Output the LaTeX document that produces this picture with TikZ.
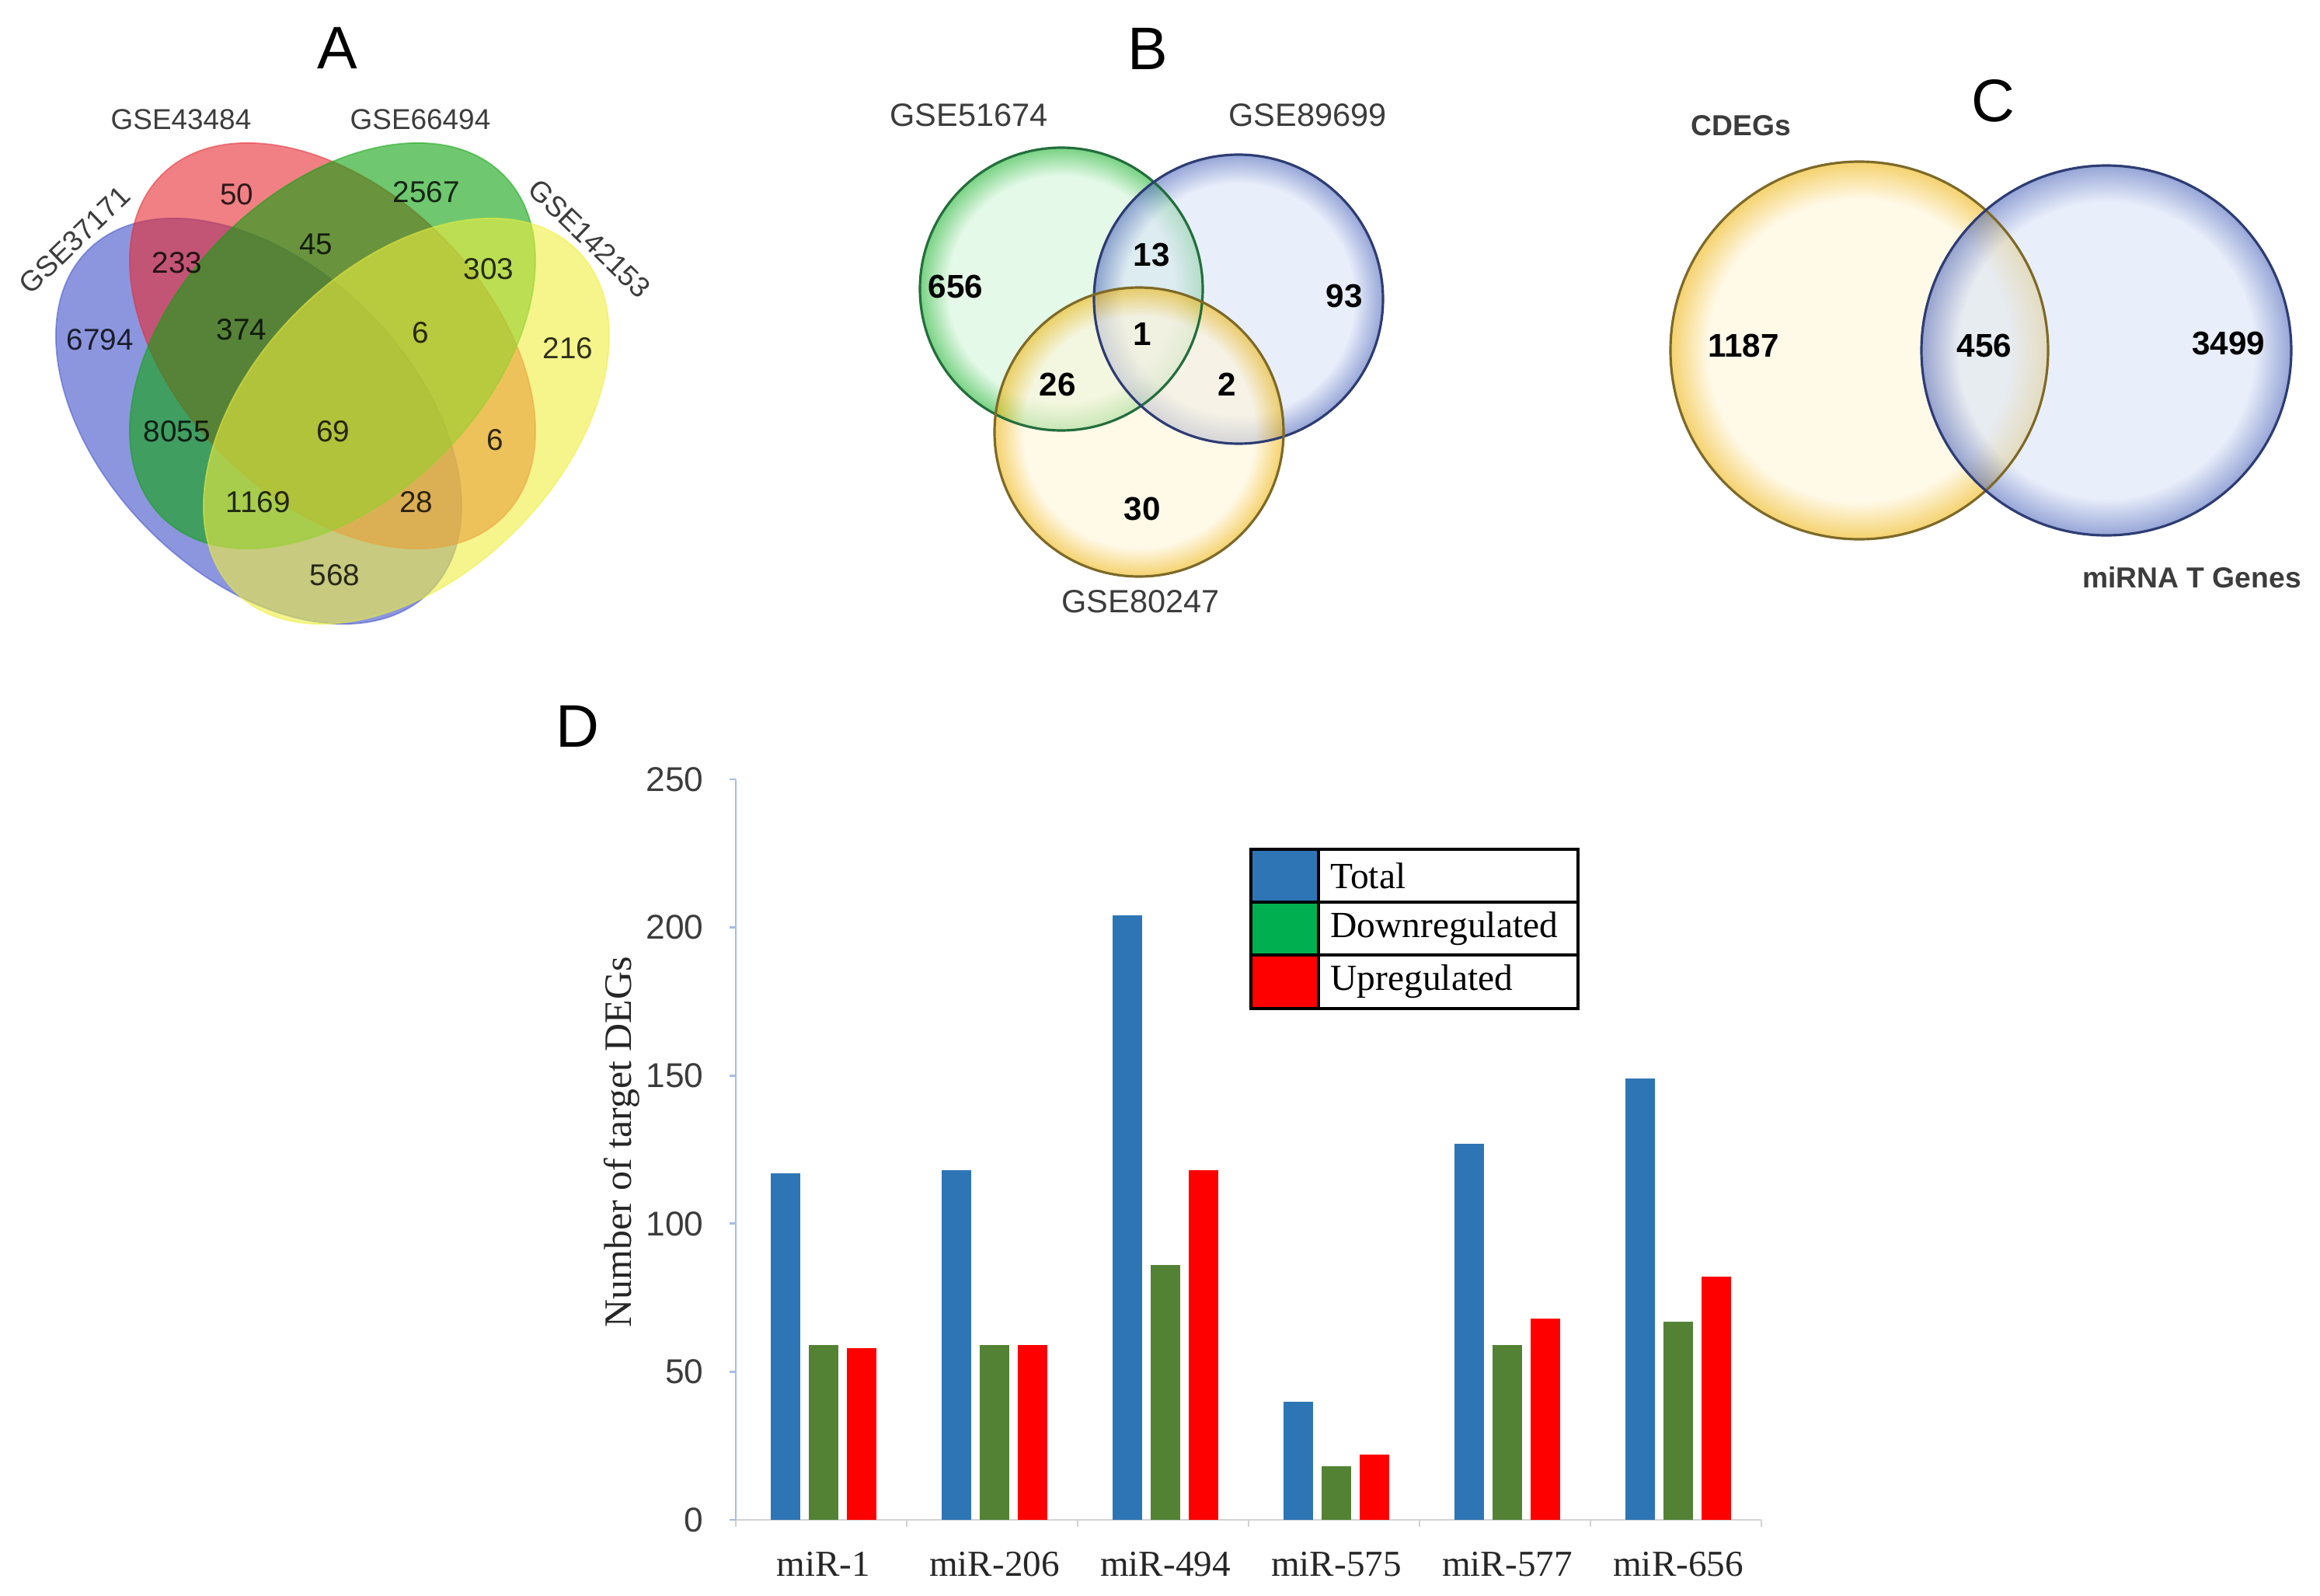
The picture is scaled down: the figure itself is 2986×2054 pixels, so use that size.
\documentclass[tikz,border=0pt]{standalone}
\usepackage{fontspec}
\setmainfont{Liberation Serif}
\setsansfont{Liberation Sans}

% four-set colours
\definecolor{vblue}{RGB}{63,80,200}
\definecolor{vred}{RGB}{230,43,50}
\definecolor{vgreen}{RGB}{15,163,15}
\definecolor{vyellow}{RGB}{238,238,63}
\definecolor{labelgray}{RGB}{60,60,60}
% shaded circles
\definecolor{greenin}{RGB}{210,245,217}
\definecolor{greenout}{RGB}{30,180,47}
\definecolor{bluein}{RGB}{217,227,247}
\definecolor{blueout}{RGB}{80,105,188}
\definecolor{yellowin}{RGB}{255,245,217}
\definecolor{yellowout}{RGB}{238,180,13}
\definecolor{greenline}{RGB}{35,110,60}
\definecolor{blueline}{RGB}{45,60,115}
\definecolor{yellowline}{RGB}{125,105,40}
% bars
\definecolor{bartotal}{RGB}{46,117,182}
\definecolor{bardown}{RGB}{84,130,53}
\definecolor{barup}{RGB}{255,0,0}
\definecolor{legdown}{RGB}{0,176,80}
\definecolor{axisblue}{RGB}{165,190,230}
\definecolor{axisgray}{RGB}{210,210,210}

\pgfdeclareradialshading{greenrim}{\pgfpoint{0bp}{0bp}}{color(0bp)=(greenin); color(20bp)=(greenin); color(25bp)=(greenout); color(50bp)=(greenout)}
\pgfdeclareradialshading{bluerim}{\pgfpoint{0bp}{0bp}}{color(0bp)=(bluein); color(20bp)=(bluein); color(25bp)=(blueout); color(50bp)=(blueout)}
\pgfdeclareradialshading{yellowrim}{\pgfpoint{0bp}{0bp}}{color(0bp)=(yellowin); color(20bp)=(yellowin); color(25bp)=(yellowout); color(50bp)=(yellowout)}

\tikzset{
  paneltitle/.style={font=\sffamily\fontsize{22}{26}\selectfont},
  venn/.style={fill opacity=0.6, draw opacity=0.5, line width=0.5pt},
  setlabel/.style={font=\sffamily\fontsize{10.5}{12}\selectfont, text=labelgray},
  vcount/.style={font=\sffamily\fontsize{11}{13}\selectfont, text opacity=0.8},
  ring/.style={fill opacity=0.6},
  bigsetlabel/.style={font=\sffamily\fontsize{11.8}{14}\selectfont, text=labelgray},
  boldcount/.style={font=\sffamily\bfseries\fontsize{12}{14}\selectfont},
  boldlabel/.style={font=\sffamily\bfseries\fontsize{10.6}{12}\selectfont, text=labelgray},
  ticklabel/.style={font=\sffamily\fontsize{12.6}{14}\selectfont, text=labelgray, anchor=east},
  catlabel/.style={font=\fontsize{13.4}{15}\selectfont, text=black!85},
  legendtext/.style={font=\fontsize{13.5}{15}\selectfont, anchor=west}
}

\begin{document}
\begin{tikzpicture}[x=0.01cm, y=-0.01cm]
\useasboundingbox (0,0) rectangle (2986,2054);

% Panel A
\node[paneltitle] (titleA) at (434,62) {A};
\draw[venn, fill=vblue, draw=vblue, rotate around={-45:(333,542)}] (333,542) ellipse (311 and 199);
\draw[venn, fill=vred, draw=vred, rotate around={-45:(428,445)}] (428,445) ellipse (311 and 199);
\draw[venn, fill=vgreen, draw=vgreen, rotate around={45:(428,445)}] (428,445) ellipse (311 and 199);
\draw[venn, fill=vyellow, draw=vyellow, rotate around={45:(523,542)}] (523,542) ellipse (311 and 199);

\node[setlabel, rotate=44] (setA1) at (96,309) {GSE37171};
\node[setlabel] (setA2) at (233,154) {GSE43484};
\node[setlabel] (setA3) at (541,154) {GSE66494};
\node[setlabel, rotate=-44] (setA4) at (759,307) {GSE142153};

\foreach \txt/\px/\py [count=\k] in {50/305/250, 2567/549/247, 45/407/314, 233/228/338,
    303/629/346, 374/311/424, 6/541/428, 6794/129/437, 216/731/448, 8055/228/555,
    69/429/555, 6/637/566, 1169/332/646, 28/536/646, 568/431/740}
  \node[vcount] (a\k) at (\px,\py) {\txt};

% Panel B
\node[paneltitle] (titleB) at (1477,63) {B};
\shade[ring, shading=greenrim] (1366,372) circle (182);
\shade[ring, shading=bluerim] (1594,385) circle (186);
\shade[ring, shading=yellowrim] (1466,556) circle (186);
\draw[greenline, line width=0.9pt] (1366,372) circle (182);
\draw[blueline, line width=0.9pt] (1594,385) circle (186);
\draw[yellowline, line width=0.9pt] (1466,556) circle (186);

\node[bigsetlabel] (setB1) at (1247,148) {GSE51674};
\node[bigsetlabel] (setB2) at (1683,148) {GSE89699};
\node[bigsetlabel] (setB3) at (1468,774) {GSE80247};

\foreach \txt/\px/\py [count=\k] in {656/1230/369, 13/1482/328, 93/1730/381, 1/1470/430,
    26/1361/495, 2/1579/495, 30/1470/655}
  \node[boldcount] (b\k) at (\px,\py) {\txt};

% Panel C
\node[paneltitle] (titleC) at (2565,130) {C};
\shade[ring, shading=yellowrim] (2393,451) circle (243);
\shade[ring, shading=bluerim] (2711,451) circle (238);
\draw[yellowline, line width=0.9pt] (2393,451) circle (243);
\draw[blueline, line width=0.9pt] (2711,451) circle (238);

\node[boldlabel] (setC1) at (2241,162) {CDEGs};
\node[boldlabel] (setC2) at (2821,743) {miRNA T Genes};

\foreach \txt/\px/\py [count=\k] in {1187/2244/445, 456/2554/445, 3499/2868/442}
  \node[boldcount] (c\k) at (\px,\py) {\txt};

% Panel D
\node[paneltitle] (titleD) at (743,935) {D};

% axes
\draw[axisgray, line width=0.7pt] (940,1956) -- (2267,1956);
\foreach \k in {0,...,6}
  \draw[axisgray, line width=0.7pt] (947+220*\k,1956) -- (947+220*\k,1965);
\draw[axisblue, line width=0.8pt] (947,1003) -- (947,1956);
\foreach \v in {0,50,...,250} {
  \draw[axisblue, line width=0.8pt] (939,1956-\v*3.812) -- (947,1956-\v*3.812);
  \node[ticklabel] (tick\v) at (918,1956-\v*3.812) {\v};
}
\node[font=\fontsize{14.2}{16}\selectfont, text=black!85, rotate=90] (ytitle) at (800,1470) {Number of target DEGs};

% bars
\foreach \name/\tot/\dn/\up [count=\i from 0] in {miR-1/117/59/58, miR-206/118/59/59,
    miR-494/204/86/118, miR-575/40/18/22, miR-577/127/59/68, miR-656/149/67/82} {
  \pgfmathsetmacro\cx{1060+220*\i}
  \fill[bartotal] (\cx-68,1956) rectangle (\cx-30,1956-\tot*3.812);
  \fill[bardown] (\cx-19,1956) rectangle (\cx+19,1956-\dn*3.812);
  \fill[barup] (\cx+30,1956) rectangle (\cx+68,1956-\up*3.812);
  \node[catlabel] (cat\i) at (\cx,2013) {\name};
}

% legend
\foreach \txt/\col [count=\r from 0] in {Total/bartotal, Downregulated/legdown, Upregulated/barup} {
  \fill[\col] (1610,1093+68.3*\r) rectangle (1697,1161.3+68.3*\r);
  \node[legendtext] (leg\r) at (1700,1127+68.3*\r) {\txt};
}
\draw[line width=1.2pt] (1610,1093) rectangle (2031,1298);
\draw[line width=1.2pt] (1610,1161) -- (2031,1161);
\draw[line width=1.2pt] (1610,1229) -- (2031,1229);
\draw[line width=1.2pt] (1697,1093) -- (1697,1298);
\end{tikzpicture}
\end{document}
